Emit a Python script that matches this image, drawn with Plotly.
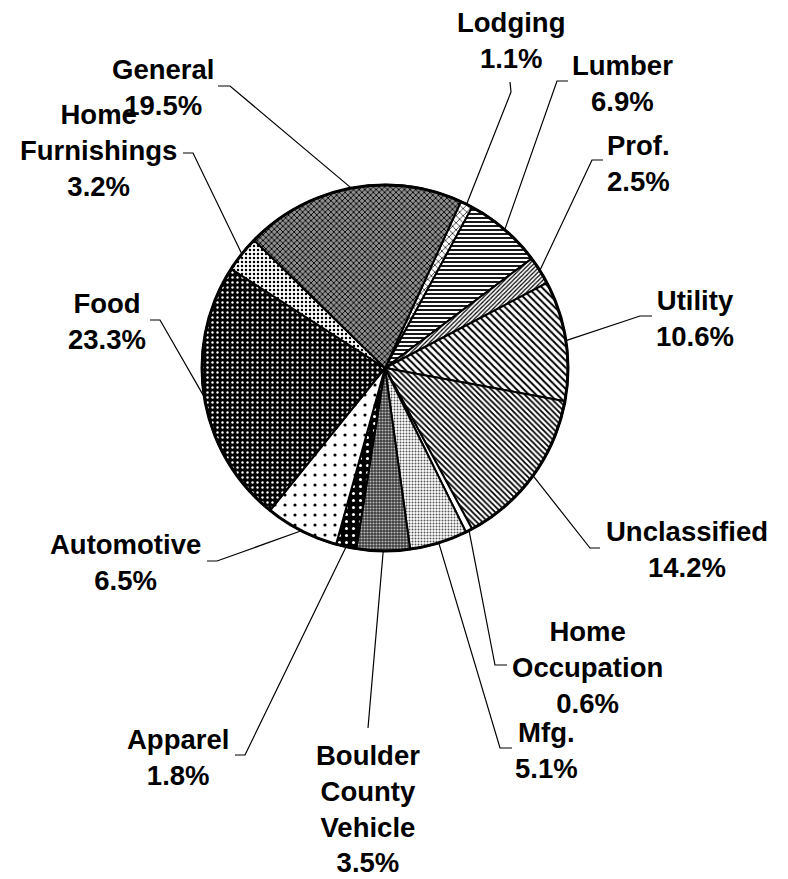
import math
import plotly.graph_objects as go

# ---------------- data ----------------
categories = ["Lodging", "Lumber", "Prof.", "Utility", "Unclassified",
              "Home<br>Occupation", "Mfg.", "Boulder<br>County<br>Vehicle",
              "Apparel", "Automotive", "Food", "Home<br>Furnishings", "General"]
# slice shares as drawn in the picture
shares = [1.1, 6.9, 2.5, 10.6, 14.2, 0.6, 5.1, 4.7, 1.8, 6.5, 23.3, 3.2, 19.5]
# percentages as printed on the labels
pct_labels = ["1.1%", "6.9%", "2.5%", "10.6%", "14.2%", "0.6%", "5.1%", "3.5%",
              "1.8%", "6.5%", "23.3%", "3.2%", "19.5%"]

# ---------------- styles ----------------
W, H = 788, 879
CX, CY, R = 385, 368, 183
ROTATION = 24.5
FONT = dict(family="Liberation Sans, Arial, sans-serif", size=27.5, color="black", weight="bold")

pat_shape = ["x", "-", "/", "\\", "\\", "", ".", ".", ".", ".", ".", ".", "x"]
pat_bg = ["white", "white", "white", "white", "white", "white", "white", "#3a3a3a",
          "black", "white", "black", "white", "#8f8f8f"]
pat_fg = ["black", "black", "black", "black", "black", "black", "#555555", "#bbbbbb",
          "white", "black", "white", "black", "black"]
pat_size = [5, 4, 3, 5, 4, 4, 3, 3, 7, 10, 5, 4, 4]
pat_sol = [0.25, 0.45, 0.4, 0.4, 0.45, 0.3, 0.35, 0.4, 0.15, 0.08, 0.18, 0.3, 0.4]

# label block centres (pixels) and leader-line elbows (pixels)
label_pos = [(511, 40), (622, 83), (638, 164), (695, 318), (687, 549), (587, 667),
             (546, 750), (368, 809), (178, 757), (125, 562), (107, 321), (99, 150), (163, 88)]
leader_pts = [[(511, 92), (510, 82)], [(557, 81), (568, 81)], [(592, 160), (603, 160)],
              [(640, 316), (652, 316)], [(590, 548), (600, 548)], [(495, 665), (507, 665)],
              [(500, 748), (512, 748)], [(368, 728)], [(245, 755), (235, 755)],
              [(217, 561), (207, 561)], [(160, 320), (150, 320)], [(193, 153), (183, 153)],
              [(230, 86), (218, 86)]]


def px(x):
    return x / W


def py(y):
    return 1 - y / H


fig = go.Figure()
fig.add_trace(go.Pie(
    labels=[c.replace("<br>", " ") for c in categories],
    values=shares,
    sort=False,
    direction="clockwise",
    rotation=ROTATION,
    textinfo="none",
    hoverinfo="label+percent",
    showlegend=False,
    domain=dict(x=[px(CX - R), px(CX + R)], y=[py(CY + R), py(CY - R)]),
    marker=dict(
        colors=pat_bg,
        line=dict(color="black", width=2),
        pattern=dict(shape=pat_shape, bgcolor=pat_bg, fgcolor=pat_fg,
                     size=pat_size, solidity=pat_sol, fillmode="replace"),
    ),
))

total = sum(shares)
cum = 0.0
shapes = []
annotations = []
for i, v in enumerate(shares):
    theta = math.radians(ROTATION + 360.0 * (cum + v / 2) / total)
    cum += v
    ex = CX + R * math.sin(theta)
    ey = CY - R * math.cos(theta)
    pts = [(ex, ey)] + leader_pts[i]
    path = "M " + " L ".join(f"{px(x):.5f},{py(y):.5f}" for x, y in pts)
    shapes.append(dict(type="path", path=path, xref="paper", yref="paper",
                       line=dict(color="black", width=1.2)))
    lx, ly = label_pos[i]
    annotations.append(dict(text=f"{categories[i]}<br>{pct_labels[i]}",
                            x=px(lx), y=py(ly), xref="paper", yref="paper",
                            xanchor="center", yanchor="middle", showarrow=False,
                            align="center", font=FONT))

# outer rim of the pie
shapes.append(dict(type="circle", xref="paper", yref="paper",
                   x0=px(CX - R), x1=px(CX + R), y0=py(CY + R), y1=py(CY - R),
                   line=dict(color="black", width=3)))

fig.update_layout(
    width=W, height=H,
    margin=dict(l=0, r=0, t=0, b=0),
    paper_bgcolor="white", plot_bgcolor="white",
    shapes=shapes, annotations=annotations,
)
fig.write_html("out.html", config={"displayModeBar": False},
               post_script="document.body.style.margin='0';document.body.style.overflow='hidden';")
